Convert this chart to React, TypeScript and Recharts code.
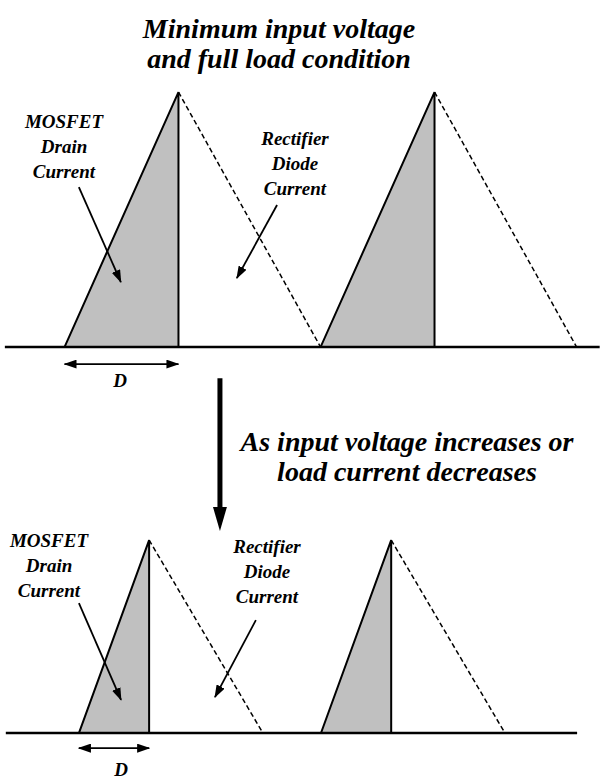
import { ComposedChart, Area, Line, XAxis, YAxis } from "recharts";

// normalised switch / diode current against time, one switching period = 10
const topDrain = [
  { t: 0, i: 0 }, { t: 4.45, i: 1 }, { t: 4.45, i: 0 },
  { t: 10, i: 0 }, { t: 14.45, i: 1 }, { t: 14.45, i: 0 },
];
const topDiode = [
  { t: 4.45, i: 1 }, { t: 10, i: 0 }, { t: 12, i: null },
  { t: 14.45, i: 1 }, { t: 20, i: 0 },
];
const topZero = [{ t: -2.33, i: 0 }, { t: 20.9, i: 0 }];

const botDrain = [
  { t: 0, i: 0 }, { t: 2.9, i: 0.757 }, { t: 2.9, i: 0 },
  { t: 10, i: 0 }, { t: 12.9, i: 0.757 }, { t: 12.9, i: 0 },
];
const botDiode = [
  { t: 2.9, i: 0.757 }, { t: 7.6, i: 0 }, { t: 9, i: null },
  { t: 12.9, i: 0.757 }, { t: 17.6, i: 0 },
];
const botZero = [{ t: -3.02, i: 0 }, { t: 20.58, i: 0 }];

// annotation pointers, in the same data units
const topDrainPtr = [{ t: 0.56, i: 0.627 }, { t: 2.2, i: 0.255 }];
const topDiodePtr = [{ t: 8.3, i: 0.557 }, { t: 6.73, i: 0.27 }];
const topDuty = [{ t: 0, i: -0.067 }, { t: 4.45, i: -0.067 }];
const botDrainPtr = [{ t: 0, i: 0.51 }, { t: 1.74, i: 0.13 }];
const botDiodePtr = [{ t: 7.31, i: 0.443 }, { t: 5.62, i: 0.141 }];
const botDuty = [{ t: 0, i: -0.059 }, { t: 2.9, i: -0.059 }];
const transition = [{ t: 6.07, i: -0.122 }, { t: 6.07, i: -0.627 }];

const titleLines = ["Minimum input voltage", "and full load condition"];
const changeLines = ["As input voltage increases or", "load current decreases"];
const drainLabel = ["MOSFET", "Drain", "Current"];
const diodeLabel = ["Rectifier", "Diode", "Current"];

function Caption({ x, y, lines, size, gap }: { x: number; y: number; lines: string[]; size: number; gap: number }) {
  return (
    <g>
      {lines.map((l, k) => (
        <text
          key={k}
          x={x}
          y={y + k * gap}
          textAnchor="middle"
          fill="#000"
          style={{ fontFamily: "Liberation Serif", fontWeight: 700, fontStyle: "italic", fontSize: size }}
        >
          {l}
        </text>
      ))}
    </g>
  );
}

export default function App() {
  const line = (data: any[], ax: string, extra: any) => (
    <Line
      data={data}
      dataKey="i"
      xAxisId={ax}
      yAxisId={ax}
      stroke="#000"
      dot={false}
      activeDot={false}
      isAnimationActive={false}
      type="linear"
      {...extra}
    />
  );
  return (
    <div style={{ position: "absolute", left: 0, top: 0, width: 603, height: 780, background: "#fff" }}>
      <ComposedChart width={603} height={780} margin={{ top: 0, right: 0, bottom: 0, left: 0 }}>
        <defs>
          <marker id="head" viewBox="0 0 13 9" refX="12" refY="4.5" markerWidth="13" markerHeight="9" markerUnits="userSpaceOnUse" orient="auto-start-reverse">
            <path d="M0,0 L13,4.5 L0,9 z" fill="#000" />
          </marker>
          <marker id="bighead" viewBox="0 0 24 14" refX="0" refY="7" markerWidth="24" markerHeight="14" markerUnits="userSpaceOnUse" orient="auto">
            <path d="M0,0 L24,7 L0,14 z" fill="#000" />
          </marker>
        </defs>
        <XAxis xAxisId="top" dataKey="t" type="number" domain={[-2.52, 21.03]} allowDataOverflow hide />
        <YAxis yAxisId="top" type="number" domain={[-1.698, 1.361]} allowDataOverflow hide />
        <XAxis xAxisId="bot" dataKey="t" type="number" domain={[-3.26, 21.65]} allowDataOverflow hide />
        <YAxis yAxisId="bot" type="number" domain={[-0.184, 2.875]} allowDataOverflow hide />

        <Area data={topDrain} dataKey="i" xAxisId="top" yAxisId="top" type="linear" baseValue={0}
          fill="#c0c0c0" fillOpacity={1} stroke="#000" strokeWidth={2} dot={false} activeDot={false} isAnimationActive={false} />
        <Area data={botDrain} dataKey="i" xAxisId="bot" yAxisId="bot" type="linear" baseValue={0}
          fill="#c0c0c0" fillOpacity={1} stroke="#000" strokeWidth={2} dot={false} activeDot={false} isAnimationActive={false} />

        {line(topDiode, "top", { strokeWidth: 1.5, strokeDasharray: "5 3" })}
        {line(botDiode, "bot", { strokeWidth: 1.5, strokeDasharray: "5 3" })}
        {line(topZero, "top", { strokeWidth: 2.5 })}
        {line(botZero, "bot", { strokeWidth: 2.5 })}

        {line(topDrainPtr, "top", { strokeWidth: 1.8, markerEnd: "url(#head)" })}
        {line(topDiodePtr, "top", { strokeWidth: 1.8, markerEnd: "url(#head)" })}
        {line(topDuty, "top", { strokeWidth: 1.8, markerStart: "url(#head)", markerEnd: "url(#head)" })}
        {line(botDrainPtr, "bot", { strokeWidth: 1.8, markerEnd: "url(#head)" })}
        {line(botDiodePtr, "bot", { strokeWidth: 1.8, markerEnd: "url(#head)" })}
        {line(botDuty, "bot", { strokeWidth: 1.8, markerStart: "url(#head)", markerEnd: "url(#head)" })}
        {line(transition, "top", { strokeWidth: 5, markerEnd: "url(#bighead)" })}
      </ComposedChart>
      <svg width={603} height={780} style={{ position: "absolute", left: 0, top: 0, pointerEvents: "none" }}>
        <Caption x={279} y={38} lines={titleLines} size={28} gap={30} />
        <Caption x={407} y={451} lines={changeLines} size={28} gap={30} />
        <Caption x={64} y={128} lines={drainLabel} size={19} gap={25} />
        <Caption x={295} y={145} lines={diodeLabel} size={19} gap={25} />
        <Caption x={49} y={547} lines={drainLabel} size={19} gap={25} />
        <Caption x={267} y={553} lines={diodeLabel} size={19} gap={25} />
        <Caption x={120} y={387} lines={["D"]} size={19} gap={0} />
        <Caption x={121} y={776} lines={["D"]} size={19} gap={0} />
      </svg>
    </div>
  );
}
